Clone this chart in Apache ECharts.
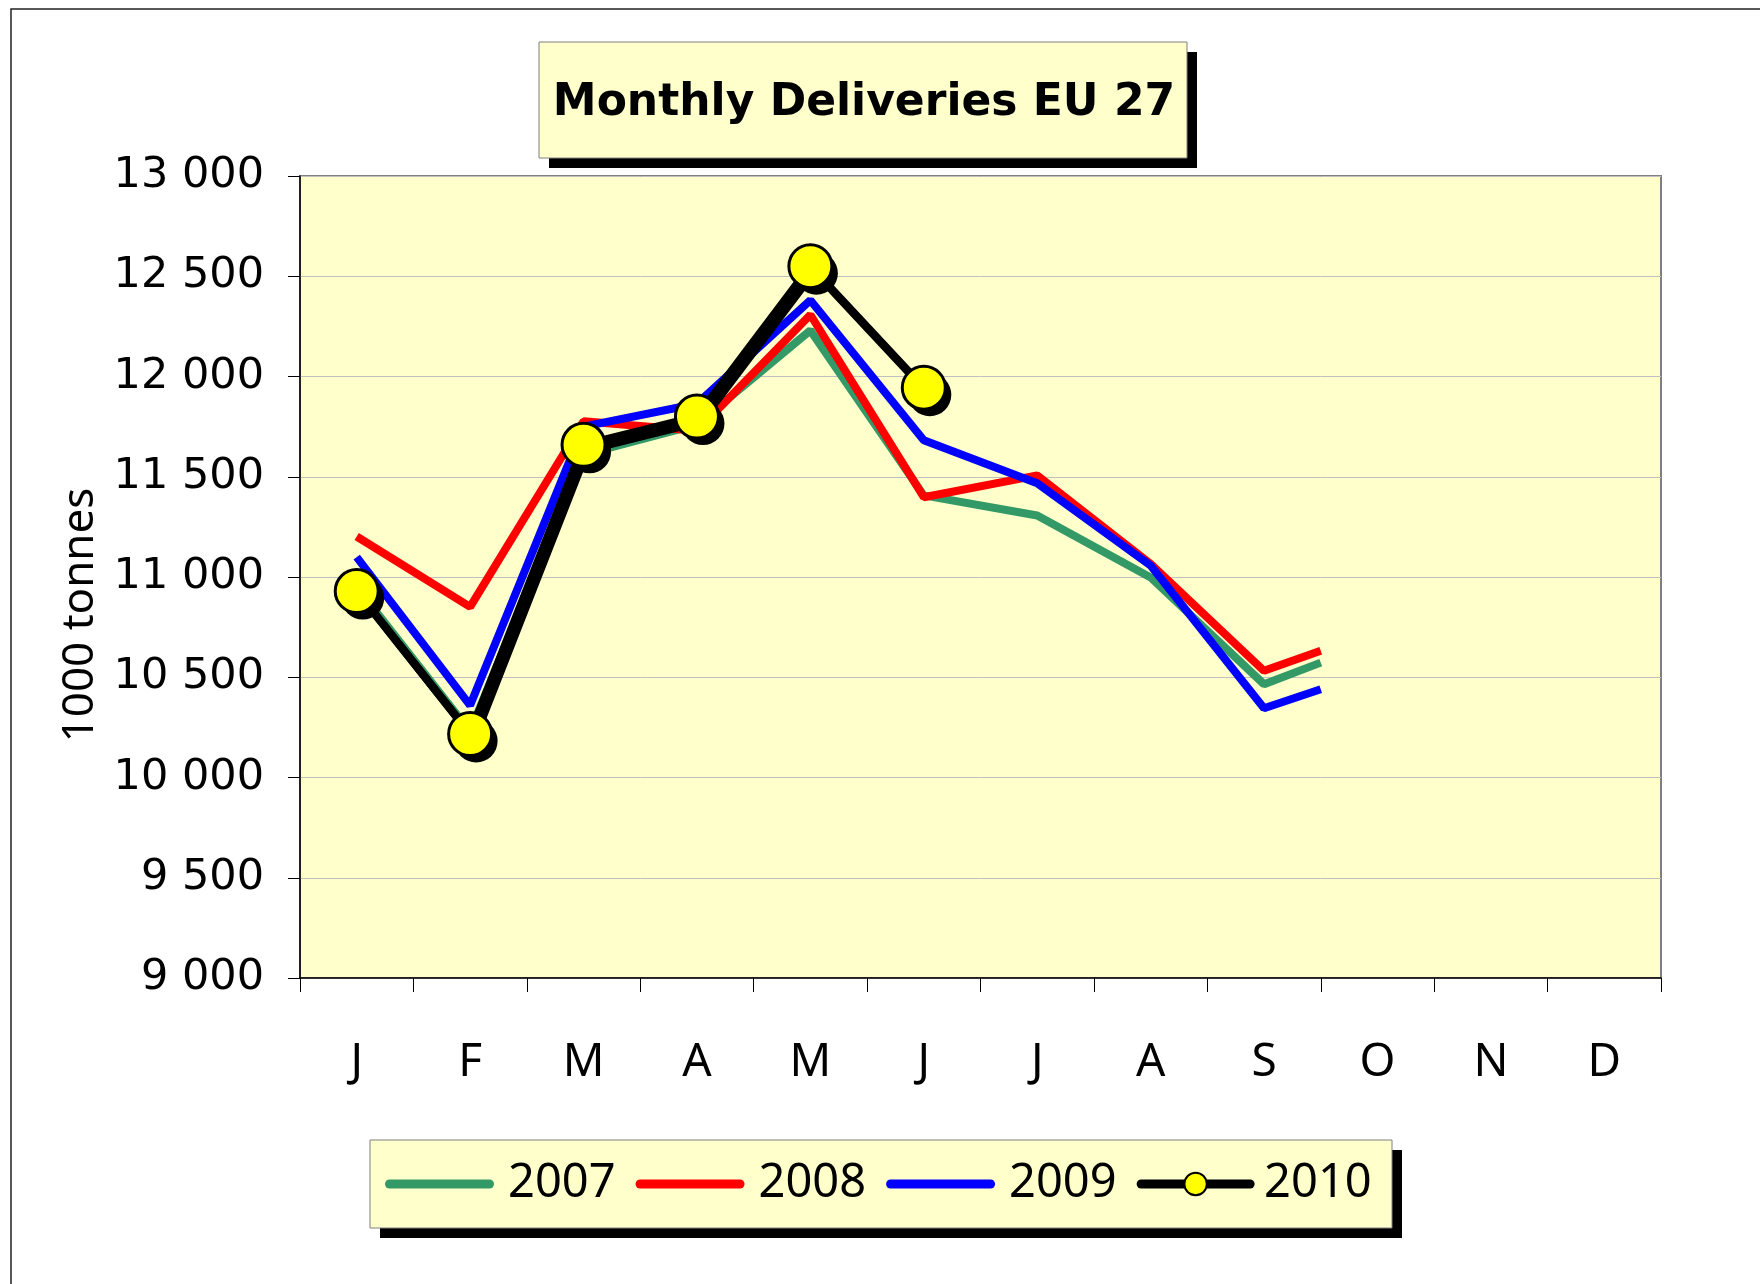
<!DOCTYPE html>
<html>
<head>
<meta charset="utf-8">
<title>Monthly Deliveries EU 27</title>
<script src="https://cdn.jsdelivr.net/npm/echarts@6/dist/echarts.min.js"></script>
<style>
  html, body { margin: 0; padding: 0; background: #fff; }
  #chart { width: 1760px; height: 1284px; }
</style>
</head>
<body>
<div id="chart"></div>
<script>
// months on the category axis
const months = ["J", "F", "M", "A", "M", "J", "J", "A", "S", "O", "N", "D"];
const yTicks = [9000, 9500, 10000, 10500, 11000, 11500, 12000, 12500, 13000];

// 1000 tonnes
const d2007 = [10950, 10230, 11610, 11760, 12230, 11407, 11307, 10998, 10465];
const d2008 = [11202, 10851, 11777, 11729, 12308, 11398, 11507, 11065, 10532];
const d2009 = [11099, 10360, 11750, 11864, 12380, 11682, 11468, 11057, 10345];
const d2010 = [10930, 10217, 11659, 11800, 12550, 11944];

// the 2007-2009 lines stop half way between S and O in the source
const cutAt = 9.5;
const cut2007 = 10573;
const cut2008 = 10632;
const cut2009 = 10440;

function toPoints(values, cutValue) {
  let pts = values.map((v, i) => [i + 1, v]);
  if (cutValue != null) pts.push([cutAt, cutValue]);
  return pts;
}

function fmtThousands(v) {
  return String(v).replace(/\B(?=(\d{3})+(?!\d))/g, " ");
}

const FONT = "'Noto Sans', sans-serif";
// thick rounded bar used as legend icon for the plain lines
const barIcon = "path://M4.5,0 H104.5 A4.5,4.5 0 0 1 104.5,9 H4.5 A4.5,4.5 0 0 1 4.5,0 Z";

let chart = echarts.init(document.getElementById("chart"), null, { renderer: "canvas" });

let option = {
  animation: false,
  backgroundColor: "#ffffff",
  graphic: [
    // outer frame
    {
      type: "rect",
      shape: { x: 11, y: 9, width: 1800, height: 1320 },
      style: { fill: "none", stroke: "#222", lineWidth: 1.5 },
      z: -1
    },
    // title box + shadow
    {
      type: "rect",
      shape: { x: 549, y: 52, width: 648, height: 116 },
      style: { fill: "#000" },
      z: -1
    },
    {
      type: "rect",
      shape: { x: 539, y: 42, width: 648, height: 116 },
      style: { fill: "#FFFFCC", stroke: "#808080", lineWidth: 1 },
      z: -1
    },
    {
      type: "text",
      x: 864,
      y: 104,
      style: {
        text: "Monthly Deliveries EU 27",
        align: "center",
        verticalAlign: "middle",
        font: "bold 44px 'DejaVu Sans', sans-serif",
        fill: "#000"
      },
      z: 1
    },
    // legend box + shadow
    {
      type: "rect",
      shape: { x: 380, y: 1150, width: 1022, height: 88 },
      style: { fill: "#000" },
      z: -1
    },
    {
      type: "rect",
      shape: { x: 370, y: 1140, width: 1022, height: 88 },
      style: { fill: "#FFFFCC", stroke: "#808080", lineWidth: 1 },
      z: -1
    }
  ],
  legend: {
    left: 385,
    top: 1159,
    padding: 0,
    itemGap: 20,
    itemWidth: 109,
    itemHeight: 28,
    lineStyle: { width: 9, cap: "round" },
    textStyle: {
      fontFamily: FONT,
      fontSize: 47,
      lineHeight: 50,
      color: "#000",
      padding: [0, 0, 0, 9]
    },
    data: [
      { name: "2007", icon: barIcon },
      { name: "2008", icon: barIcon },
      { name: "2009", icon: barIcon },
      { name: "2010" }
    ]
  },
  grid: {
    left: 300,
    right: 99,
    top: 176,
    bottom: 306,
    show: true,
    backgroundColor: "#FFFFCC",
    borderColor: "#808080",
    borderWidth: 2
  },
  xAxis: [
    {
      type: "category",
      data: months,
      boundaryGap: true,
      axisLine: { lineStyle: { color: "#000", width: 1.5 } },
      axisTick: { show: true, length: 14, lineStyle: { color: "#000" } },
      axisLabel: {
        margin: 62,
        fontFamily: FONT,
        fontSize: 46,
        color: "#000"
      },
      splitLine: { show: false }
    },
    {
      type: "value",
      min: 0.5,
      max: 12.5,
      show: false
    }
  ],
  yAxis: {
    type: "value",
    min: yTicks[0],
    max: yTicks[yTicks.length - 1],
    interval: 500,
    name: "1000 tonnes",
    nameLocation: "middle",
    nameGap: 196,
    nameRotate: 90,
    nameTextStyle: {
      fontFamily: FONT,
      fontSize: 44,
      color: "#000",
      padding: [0, 76, 0, 0]
    },
    axisLine: { show: true, lineStyle: { color: "#000", width: 1.5 } },
    axisTick: { show: true, length: 12, lineStyle: { color: "#000" } },
    axisLabel: {
      margin: 36,
      fontFamily: "'DejaVu Sans', sans-serif",
      fontSize: 43,
      color: "#000",
      padding: [4, 0, 0, 0],
      formatter: fmtThousands
    },
    splitLine: { lineStyle: { color: "#C0C0C0", width: 1 } }
  },
  series: [
    {
      name: "2007",
      type: "line",
      xAxisIndex: 1,
      data: toPoints(d2007, cut2007),
      symbol: "none",
      color: "#339966",
      lineStyle: { color: "#339966", width: 8 }
    },
    {
      name: "2008",
      type: "line",
      xAxisIndex: 1,
      data: toPoints(d2008, cut2008),
      symbol: "none",
      color: "#FF0000",
      lineStyle: { color: "#FF0000", width: 8 }
    },
    {
      name: "2009",
      type: "line",
      xAxisIndex: 1,
      data: toPoints(d2009, cut2009),
      symbol: "none",
      color: "#0000FF",
      lineStyle: { color: "#0000FF", width: 8 }
    },
    // drop shadow of the 2010 markers
    {
      name: "2010 shadow",
      type: "line",
      xAxisIndex: 1,
      data: toPoints(d2010, null),
      symbol: "circle",
      symbolSize: 43,
      symbolOffset: [6, 7],
      lineStyle: { opacity: 0 },
      itemStyle: { color: "#000" },
      silent: true
    },
    {
      name: "2010",
      type: "line",
      xAxisIndex: 1,
      data: toPoints(d2010, null),
      symbol: "circle",
      symbolSize: 43,
      color: "#000000",
      lineStyle: {
        color: "#000000",
        width: 8,
        shadowColor: "#000",
        shadowOffsetX: 4,
        shadowOffsetY: 5,
        shadowBlur: 0
      },
      itemStyle: {
        color: "#FFFF00",
        borderColor: "#000",
        borderWidth: 3
      }
    }
  ]
};

chart.setOption(option);
</script>
</body>
</html>
